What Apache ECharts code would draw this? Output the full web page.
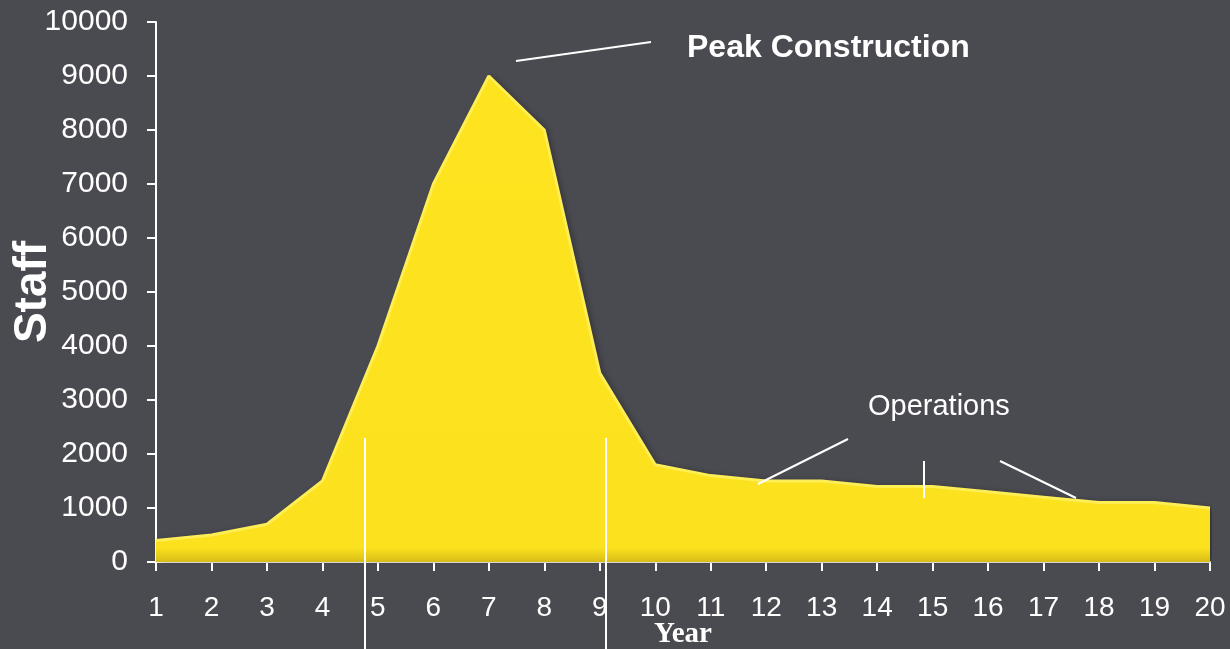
<!DOCTYPE html>
<html>
<head>
<meta charset="utf-8">
<title>Staff</title>
<script src="https://cdn.jsdelivr.net/npm/echarts@6/dist/echarts.min.js"></script>
</head>
<body style="margin:0;background-color:#4a4a51">
<div id="chart" style="width:1230px;height:649px"></div>
<script type="text/javascript">
// data
var years = ['1','2','3','4','5','6','7','8','9','10','11','12','13','14','15','16','17','18','19','20'];
var staff = [400, 500, 700, 1500, 4000, 7000, 9000, 8000, 3500, 1800, 1600, 1500, 1500, 1400, 1400, 1300, 1200, 1100, 1100, 1000];
var yTicks = [0, 1000, 2000, 3000, 4000, 5000, 6000, 7000, 8000, 9000, 10000];

var myChart = echarts.init(document.getElementById('chart'));

var white = '#ffffff';
var labelFont = '"Liberation Sans", Arial, sans-serif';

myChart.setOption({
  backgroundColor: '#4a4a51',
  animation: false,
  grid: { left: 156, right: 20, top: 22, bottom: 87, containLabel: false, outerBoundsMode: 'none' },
  xAxis: {
    type: 'category',
    data: years,
    boundaryGap: false,
    axisLine: { lineStyle: { color: white, width: 2 } },
    axisTick: { show: true, length: 9, lineStyle: { color: white, width: 2 } },
    axisLabel: { color: white, fontSize: 28, fontFamily: labelFont, margin: 32 },
    name: 'Year',
    nameLocation: 'middle',
    nameGap: 58,
    nameMoveOverlap: false,
    nameTextStyle: { color: white, fontSize: 29, fontWeight: 'bold', fontFamily: '"Liberation Serif", "DejaVu Serif", serif' }
  },
  yAxis: {
    type: 'value',
    min: yTicks[0],
    max: yTicks[yTicks.length - 1],
    interval: 1000,
    splitLine: { show: false },
    axisLine: { show: true, lineStyle: { color: white, width: 2 } },
    axisTick: { show: true, length: 9, lineStyle: { color: white, width: 2 } },
    axisLabel: { color: white, fontSize: 30, fontFamily: labelFont, margin: 28, formatter: function (v) { return String(v); } },
    name: 'Staff',
    nameLocation: 'middle',
    nameGap: 100,
    nameRotate: 90,
    nameMoveOverlap: false,
    nameTextStyle: { color: white, fontSize: 46, fontWeight: 'bold', fontFamily: labelFont }
  },
  series: [{
    type: 'line',
    data: staff,
    symbol: 'none',
    lineStyle: { color: '#fdee55', width: 3 },
    areaStyle: {
      color: new echarts.graphic.LinearGradient(0, 0, 0, 1, [
        { offset: 0, color: '#fde41f' },
        { offset: 0.97, color: '#fce21e' },
        { offset: 1, color: '#d8bd18' }
      ]),
      opacity: 1,
      shadowColor: 'rgba(0,0,0,0.35)',
      shadowBlur: 6,
      shadowOffsetX: 3
    }
  }],
  graphic: [
    { type: 'line', shape: { x1: 365, y1: 438, x2: 365, y2: 649 }, style: { stroke: white, lineWidth: 2 }, z: 100 },
    { type: 'line', shape: { x1: 606, y1: 438, x2: 606, y2: 649 }, style: { stroke: white, lineWidth: 2 }, z: 100 },
    { type: 'line', shape: { x1: 516, y1: 61, x2: 651, y2: 42 }, style: { stroke: white, lineWidth: 2 }, z: 100 },
    { type: 'text', style: { x: 687, y: 48, verticalAlign: 'middle', text: 'Peak Construction', fill: white, font: 'bold 32px "Liberation Sans", Arial, sans-serif' }, z: 100 },
    { type: 'text', style: { x: 868, y: 407, verticalAlign: 'middle', text: 'Operations', fill: white, font: '29px "Liberation Sans", Arial, sans-serif' }, z: 100 },
    { type: 'line', shape: { x1: 758, y1: 484, x2: 848, y2: 439 }, style: { stroke: white, lineWidth: 2 }, z: 100 },
    { type: 'line', shape: { x1: 924, y1: 461, x2: 924, y2: 498 }, style: { stroke: white, lineWidth: 2 }, z: 100 },
    { type: 'line', shape: { x1: 1000, y1: 461, x2: 1076, y2: 498 }, style: { stroke: white, lineWidth: 2 }, z: 100 }
  ]
});
</script>
</body>
</html>
